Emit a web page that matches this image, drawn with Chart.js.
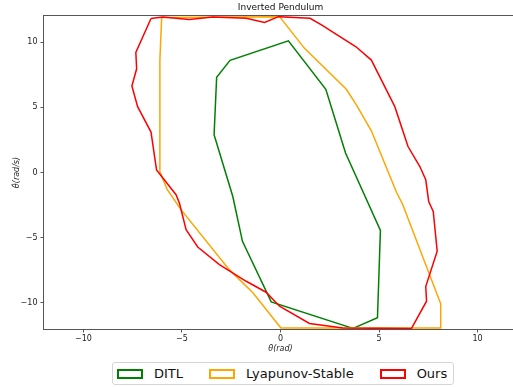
<!DOCTYPE html>
<html>
<head>
<meta charset="utf-8">
<script src="https://cdn.jsdelivr.net/npm/chart.js@4.4.1/dist/chart.umd.min.js"></script>
<style>
  html, body { margin: 0; padding: 0; overflow: hidden; background: #fff; }
  #wrap { position: relative; width: 561px; height: 387px; }
  #legend {
    position: absolute; top: 362px; left: 112px; height: 23px;
    box-sizing: border-box; border: 1px solid #d5d5d5; border-radius: 3px;
    display: flex; align-items: center; padding: 0 6px 0 4px;
    font: 13px 'DejaVu Sans', sans-serif; color: #111; background: #fff;
  }
  #legend .item { display: flex; align-items: center; margin-right: 26px; }
  #legend .item:last-child { margin-right: 0; }
  #legend .sw { width: 26px; height: 10px; box-sizing: border-box; border: 2px solid; margin-right: 11px; }
</style>
</head>
<body>
<div id="wrap">
  <canvas id="myChart" width="561" height="387"></canvas>
  <div id="legend"></div>
</div>
<script>
const labels = ["DITL", "Lyapunov-Stable", "Ours"];
const colors = ["green", "orange", "red"];

const ditlX = [-3.37, -3.24, -2.56, 0.40, 2.30, 3.30, 5.07, 4.92, 3.68, -0.47, -1.93, -2.42, -3.37];
const ditlY = [2.90, 7.30, 8.60, 10.10, 6.38, 1.50, -4.44, -11.14, -11.95, -9.92, -5.28, -1.84, 2.90];

const lyapX = [-6.03, -0.05, 1.22, 3.34, 3.85, 4.61, 5.88, 6.20, 8.13, 8.13, 0.02, -1.40, -2.60, -5.05, -5.75, -6.12, -6.12, -6.03];
const lyapY = [11.88, 11.95, 9.52, 6.38, 5.18, 3.20, -1.50, -2.45, -10.07, -11.93, -11.93, -9.22, -7.45, -2.85, -1.30, 0.05, 8.60, 11.88];

const oursX = [-6.57, -5.98, -4.63, -3.44, -1.74, -0.81, -0.10, 1.50, 2.10, 3.83, 4.61, 5.80, 6.47, 7.07, 7.37, 7.52, 7.75, 7.95, 7.37, 7.41, 6.64, 3.17, 1.47, -0.05, -0.73, -1.74, -3.10, -4.20, -4.79, -5.13, -5.30, -6.29, -6.57, -7.25, -7.54, -7.30, -7.34, -6.57];
const oursY = [11.81, 11.92, 11.74, 11.92, 11.82, 11.50, 11.95, 11.82, 11.30, 9.64, 8.62, 5.05, 1.99, 0.46, -0.56, -2.22, -2.98, -6.04, -8.75, -9.87, -11.97, -11.92, -11.58, -10.25, -9.18, -8.34, -7.06, -5.71, -4.38, -2.34, -1.70, 0.20, 3.10, 5.05, 6.63, 7.95, 9.20, 11.81];

const xTicks = [-10, -5, 0, 5, 10];
const yTicks = [-10, -5, 0, 5, 10];

Chart.defaults.font.family = "'DejaVu Sans', sans-serif";
Chart.defaults.color = "#222";

const toPoints = (xs, ys) => xs.map((x, i) => ({ x: x, y: ys[i] }));
const series = [toPoints(ditlX, ditlY), toPoints(lyapX, lyapY), toPoints(oursX, oursY)];

const frame = {
  id: "frame",
  afterDatasetsDraw(chart) {
    const { ctx, chartArea: a } = chart;
    ctx.save();
    ctx.strokeStyle = "#555";
    ctx.lineWidth = 1;
    ctx.strokeRect(a.left - 0.5, a.top - 0.5, a.width + 1, a.height + 1);
    ctx.restore();
  }
};

const minus = v => String(v).replace("-", "\u2212");

const tickGrid = { display: true, drawOnChartArea: false, drawTicks: true, tickLength: 3.5, tickColor: "#555", tickWidth: 1 };

const chart = new Chart(document.getElementById("myChart"), {
  type: "scatter",
  data: {
    datasets: series.map((pts, i) => ({
      label: labels[i],
      data: pts,
      showLine: true,
      borderColor: colors[i],
      backgroundColor: "#fff",
      borderWidth: 1.5,
      pointRadius: 0,
      tension: 0,
      order: 3 - i
    }))
  },
  options: {
    responsive: false,
    animation: false,
    layout: { padding: { left: 0, right: 44, top: 0, bottom: 31 } },
    plugins: {
      legend: { display: false },
      tooltip: { enabled: false },
      title: {
        display: true,
        fullSize: false,
        text: "Inverted Pendulum",
        color: "#111",
        font: { size: 9, weight: "normal" },
        padding: { top: 2.5, bottom: 2.7 }
      }
    },
    scales: {
      x: {
        type: "linear",
        min: -12, max: 12,
        afterBuildTicks: s => { s.ticks = xTicks.map(v => ({ value: v })); },
        afterFit: s => { s.height = 27; },
        grid: tickGrid,
        border: { display: false },
        ticks: { font: { size: 8 }, padding: 2, maxRotation: 0, callback: minus },
        title: { display: true, text: "\u03B8(rad)", font: { size: 8, style: "italic" }, padding: { top: 0, bottom: 2.2 } }
      },
      y: {
        type: "linear",
        min: -12, max: 12,
        afterBuildTicks: s => { s.ticks = yTicks.map(v => ({ value: v })); },
        afterFit: s => { s.width = 44; },
        grid: tickGrid,
        border: { display: false },
        ticks: { font: { size: 8 }, padding: 3, callback: minus },
        title: { display: true, text: "\u03B8\u0307(rad/s)", font: { size: 8, style: "italic" }, padding: { top: 12.5, bottom: 0 } }
      }
    }
  },
  plugins: [frame]
});

// legend like matplotlib's, built from the datasets
const legendEl = document.getElementById("legend");
chart.data.datasets.forEach(ds => {
  const item = document.createElement("div");
  item.className = "item";
  const sw = document.createElement("span");
  sw.className = "sw";
  sw.style.borderColor = ds.borderColor;
  const txt = document.createElement("span");
  txt.textContent = ds.label;
  item.appendChild(sw);
  item.appendChild(txt);
  legendEl.appendChild(item);
});
</script>
</body>
</html>
